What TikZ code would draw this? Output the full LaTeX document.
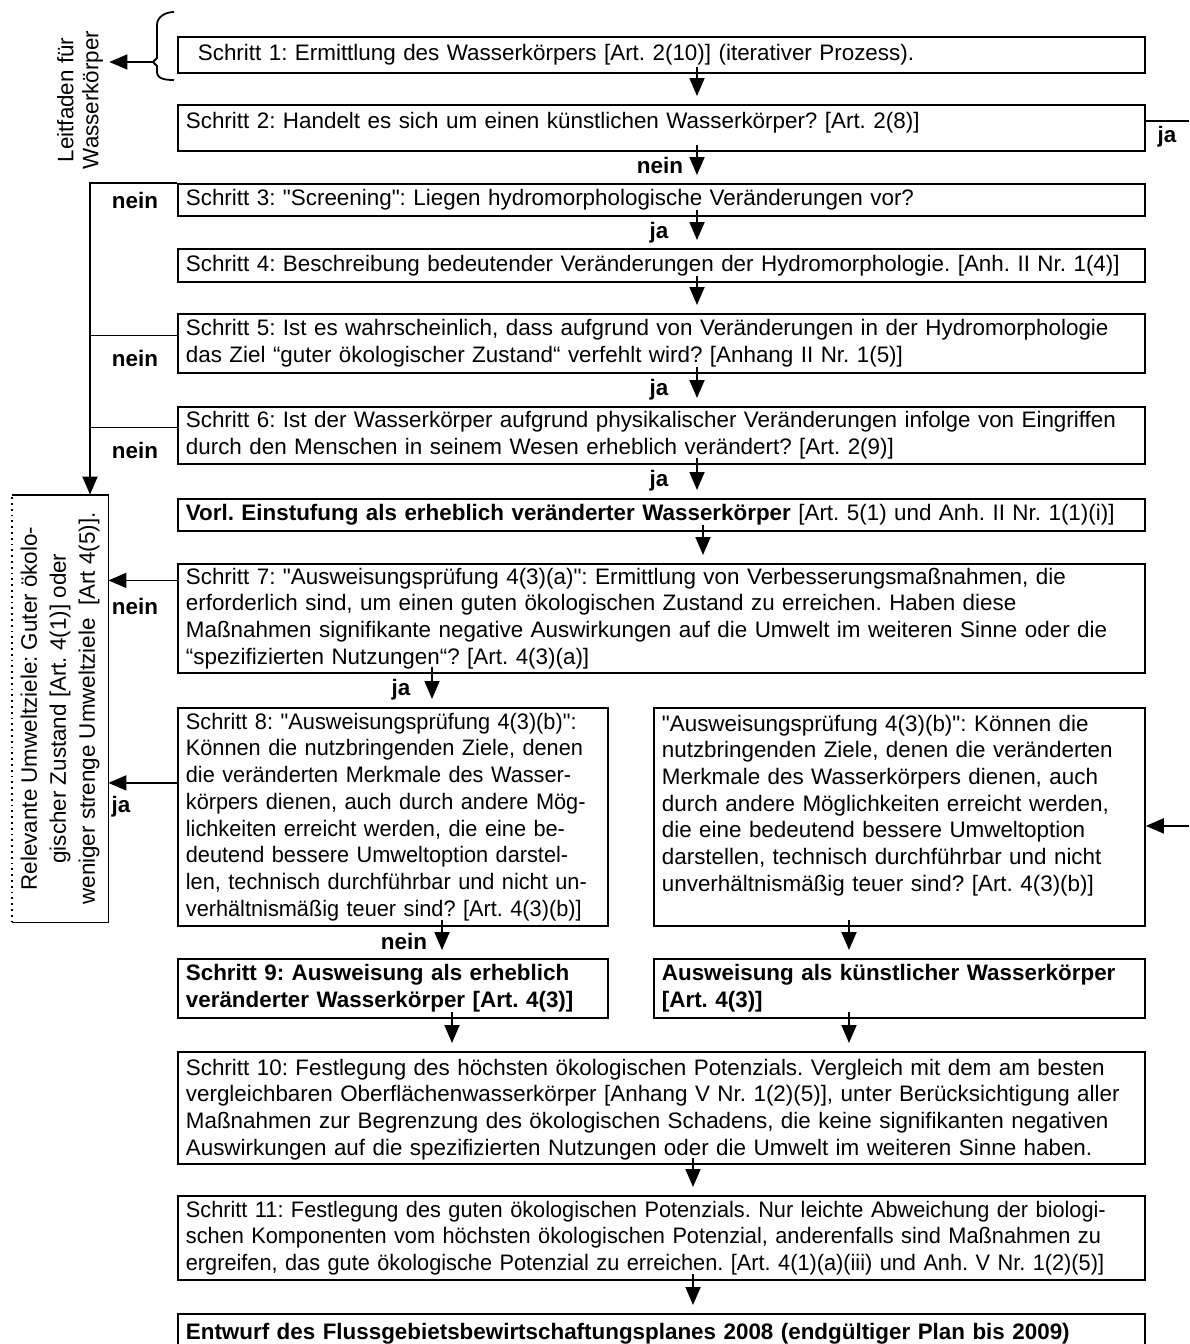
\documentclass[tikz,border=0pt]{standalone}
\usepackage{fontspec}
\setmainfont{Liberation Sans}
\newfontfamily\narrowfont[FakeStretch=0.97]{Liberation Sans}
\newcommand{\dq}{\textquotedbl}
\frenchspacing
\usetikzlibrary{arrows.meta}

\begin{document}
\begin{tikzpicture}[x=0.5pt,y=-0.5pt,
  font=\fontsize{11.2}{13.35}\selectfont,
  stepbox/.style={draw,line width=0.9pt,anchor=north west,align=left,inner xsep=4pt,inner ysep=0pt},
  widebox/.style={stepbox,minimum width=483.5pt,text width=475.5pt},
  halfbox/.style={stepbox,minimum width=215pt,text width=207pt},
  rightbox/.style={stepbox,minimum width=245.5pt,text width=237.5pt},
  flow/.style={-{Triangle[length=9pt,width=7.5pt]},line width=0.9pt,shorten <=-3.5pt,shorten >=4pt},
  arr/.style={-{Triangle[length=9pt,width=7.5pt]},line width=0.9pt},
  lbl/.style={font=\fontsize{11.2}{13.35}\selectfont\bfseries,inner sep=0pt}]

\useasboundingbox (0,0) rectangle (1189,1344);

% Schritte 1 bis 7
\node[widebox,inner xsep=10pt,text width=463.5pt,minimum height=18pt] (s1) at (177,36)
  {Schritt 1: Ermittlung des Wasserkörpers [Art. 2(10)] (iterativer Prozess).};
\node[widebox,minimum height=23pt,text depth=7.5pt] (s2) at (177,104)
  {Schritt 2: Handelt es sich um einen künstlichen Wasserkörper? [Art. 2(8)]};
\node[widebox,minimum height=16pt] (s3) at (177,183)
  {Schritt 3: \dq Screening\dq: Liegen hydromorphologische Veränderungen vor?};
\node[widebox,minimum height=16.5pt] (s4) at (177,248)
  {Schritt 4: Beschreibung bedeutender Veränderungen der Hydromorphologie. [Anh. II Nr. 1(4)]};
\node[widebox,minimum height=29.5pt] (s5) at (177,313)
  {Schritt 5: Ist es wahrscheinlich, dass aufgrund von Veränderungen in der Hydromorphologie\\
   das Ziel “guter ökologischer Zustand“ verfehlt wird? [Anhang II Nr. 1(5)]};
\node[widebox,minimum height=28.5pt] (s6) at (177,406)
  {Schritt 6: Ist der Wasserkörper aufgrund physikalischer Veränderungen infolge von Eingriffen\\
   durch den Menschen in seinem Wesen erheblich verändert? [Art. 2(9)]};
\node[widebox,minimum height=16pt] (sv) at (177,498)
  {\textbf{Vorl. Einstufung als erheblich veränderter Wasserkörper} [Art. 5(1) und Anh. II Nr. 1(1)(i)]};
\node[widebox,minimum height=54.5pt] (s7) at (177,563)
  {Schritt 7: \dq Ausweisungsprüfung 4(3)(a)\dq: Ermittlung von Verbesserungsmaßnahmen, die\\
   erforderlich sind, um einen guten ökologischen Zustand zu erreichen. Haben diese\\
   Maßnahmen signifikante negative Auswirkungen auf die Umwelt im weiteren Sinne oder die\\
   “spezifizierten Nutzungen“? [Art. 4(3)(a)]};

% Schritt 8 und Pruefung fuer kuenstliche Wasserkoerper
\node[halfbox,minimum height=109pt,font=\fontsize{11.2}{13.35}\narrowfont] (s8) at (177,707)
  {Schritt 8: \dq Ausweisungsprüfung 4(3)(b)\dq:\\
   Können die nutzbringenden Ziele, denen\\
   die veränderten Merkmale des Wasser-\\
   körpers dienen, auch durch andere Mög-\\
   lichkeiten erreicht werden, die eine be-\\
   deutend bessere Umweltoption darstel-\\
   len, technisch durchführbar und nicht un-\\
   verhältnismäßig teuer sind? [Art. 4(3)(b)]};
\node[rightbox,minimum height=109pt,text depth=94pt] (sk) at (653,707)
  {\dq Ausweisungsprüfung 4(3)(b)\dq: Können die\\
   nutzbringenden Ziele, denen die veränderten\\
   Merkmale des Wasserkörpers dienen, auch\\
   durch andere Möglichkeiten erreicht werden,\\
   die eine bedeutend bessere Umweltoption\\
   darstellen, technisch durchführbar und nicht\\
   unverhältnismäßig teuer sind? [Art. 4(3)(b)]};
\node[halfbox,minimum height=29.5pt,font=\fontsize{11.2}{13.35}\selectfont\bfseries] (s9) at (177,958)
  {Schritt 9: Ausweisung als erheblich\\veränderter Wasserkörper [Art. 4(3)]};
\node[rightbox,minimum height=29.5pt,font=\fontsize{11.2}{13.35}\selectfont\bfseries] (ka) at (653,958)
  {Ausweisung als künstlicher Wasserkörper\\{}[Art. 4(3)]};

% Schritte 10, 11 und Plan
\node[widebox,minimum height=56pt,text depth=41pt] (s10) at (177,1051)
  {Schritt 10: Festlegung des höchsten ökologischen Potenzials. Vergleich mit dem am besten\\
   vergleichbaren Oberflächenwasserkörper [Anhang V Nr. 1(2)(5)], unter Berücksichtigung aller\\
   Maßnahmen zur Begrenzung des ökologischen Schadens, die keine signifikanten negativen\\
   Auswirkungen auf die spezifizierten Nutzungen oder die Umwelt im weiteren Sinne haben.};
\node[widebox,minimum height=42pt,font=\fontsize{11.2}{13.35}\narrowfont] (s11) at (177,1195)
  {Schritt 11: Festlegung des guten ökologischen Potenzials. Nur leichte Abweichung der biologi-\\
   schen Komponenten vom höchsten ökologischen Potenzial, anderenfalls sind Maßnahmen zu\\
   ergreifen, das gute ökologische Potenzial zu erreichen. [Art. 4(1)(a)(iii) und Anh. V Nr. 1(2)(5)]};
\node[widebox,minimum height=20pt,font=\fontsize{11.2}{13.35}\selectfont\bfseries] (s12) at (177,1313)
  {Entwurf des Flussgebietsbewirtschaftungsplanes 2008 (endgültiger Plan bis 2009)};

% Umweltziele links
\node[rotate=90,minimum width=213.5pt,minimum height=48pt,align=center,inner sep=0pt,
  font=\fontsize{11.2}{14.5}\selectfont] (ziel) at (60,708.5)
  {Relevante Umweltziele: Guter ökolo-\\gischer Zustand [Art. 4(1)] oder\\weniger strenge Umweltziele~~[Art 4(5)].};
\draw[dotted,line width=0.9pt] (ziel.north west) -- (ziel.north east);
\draw[line width=0.9pt] (ziel.north east) -- (ziel.south east) -- (ziel.south west) -- (ziel.north west);

% Leitfaden
\node[rotate=90,align=center,inner sep=3pt,font=\fontsize{11.2}{12.5}\selectfont] (leit) at (80,100)
  {Leitfaden für\\Wasserkörper};
\draw[line width=0.9pt] (174,12) to[out=180,in=90] (157,25) -- (157,58) -- (153,62) -- (157,66)
  -- (157,72) to[out=-90,in=180] (174,80);
\coordinate (bt) at (153,62);
\draw[arr] (bt) -- (bt -| leit.south);

% Pfeile
\coordinate (ax) at (697,0);
\coordinate (ax7) at (703,0);
\coordinate (ax8) at (432,0);
\coordinate (ax9) at (442,0);
\coordinate (ax10) at (452,0);
\coordinate (axk) at (849,0);
\coordinate (axe) at (693,0);
\coordinate (lx) at (90,0);
\coordinate (rx) at (1189,0);
\foreach \a/\b in {s1/s2,s2/s3,s3/s4,s4/s5,s5/s6,s6/sv}
  \draw[flow] (\a.south -| ax) -- (\b.north -| ax);
\draw[flow] (sv.south -| ax7) -- (s7.north -| ax7);
\draw[flow] (s7.south -| ax8) -- (s8.north -| ax8);
\draw[flow] (s8.south -| ax9) -- (s9.north -| ax9);
\draw[flow] (sk.south -| axk) -- (ka.north -| axk);
\draw[flow] (s9.south -| ax10) -- (s10.north -| ax10);
\draw[flow] (ka.south -| axk) -- (s10.north -| axk);
\draw[flow] (s10.south -| axe) -- (s11.north -| axe);
\draw[flow] (s11.south -| axe) -- (s12.north -| axe);

% nein-Zweige links
\draw[arr] (s3.north west) -- (s3.north west -| lx) -- (ziel.east -| lx);
\draw[line width=0.9pt] ([yshift=4pt]s5.west) -- ([yshift=4pt]s5.west -| lx);
\draw[line width=0.9pt] ([yshift=4pt]s6.west) -- ([yshift=4pt]s6.west -| lx);
\draw[arr] ([yshift=19pt]s7.west) -- ([yshift=19pt]s7.west -| ziel.south);
\draw[arr] ([yshift=17pt]s8.west) -- ([yshift=17pt]s8.west -| ziel.south);

% ja-Zweig rechts
\draw[line width=0.9pt] ([yshift=3.5pt]s2.east) -- ([yshift=3.5pt]s2.east -| rx);
\draw[arr] ([yshift=-4.5pt]sk.east -| rx) -- ([yshift=-4.5pt]sk.east);

% Beschriftungen
\node[lbl] (n2) at (660,165) {nein};
\node[lbl] (j3) at (659,233) {ja};
\node[lbl] (j5) at (659,390) {ja};
\node[lbl] (j6) at (659,481) {ja};
\node[lbl] (j7) at (401,690) {ja};
\node[lbl] (n8) at (404,941) {nein};
\node[lbl] (j2) at (1167,137) {ja};
\node[lbl] (n3) at (135,200) {nein};
\node[lbl] (n5) at (135,358) {nein};
\node[lbl] (n6) at (135,450) {nein};
\node[lbl] (n7) at (135,606) {nein};
\node[lbl] (j8) at (121,807) {ja};
\end{tikzpicture}
\end{document}
